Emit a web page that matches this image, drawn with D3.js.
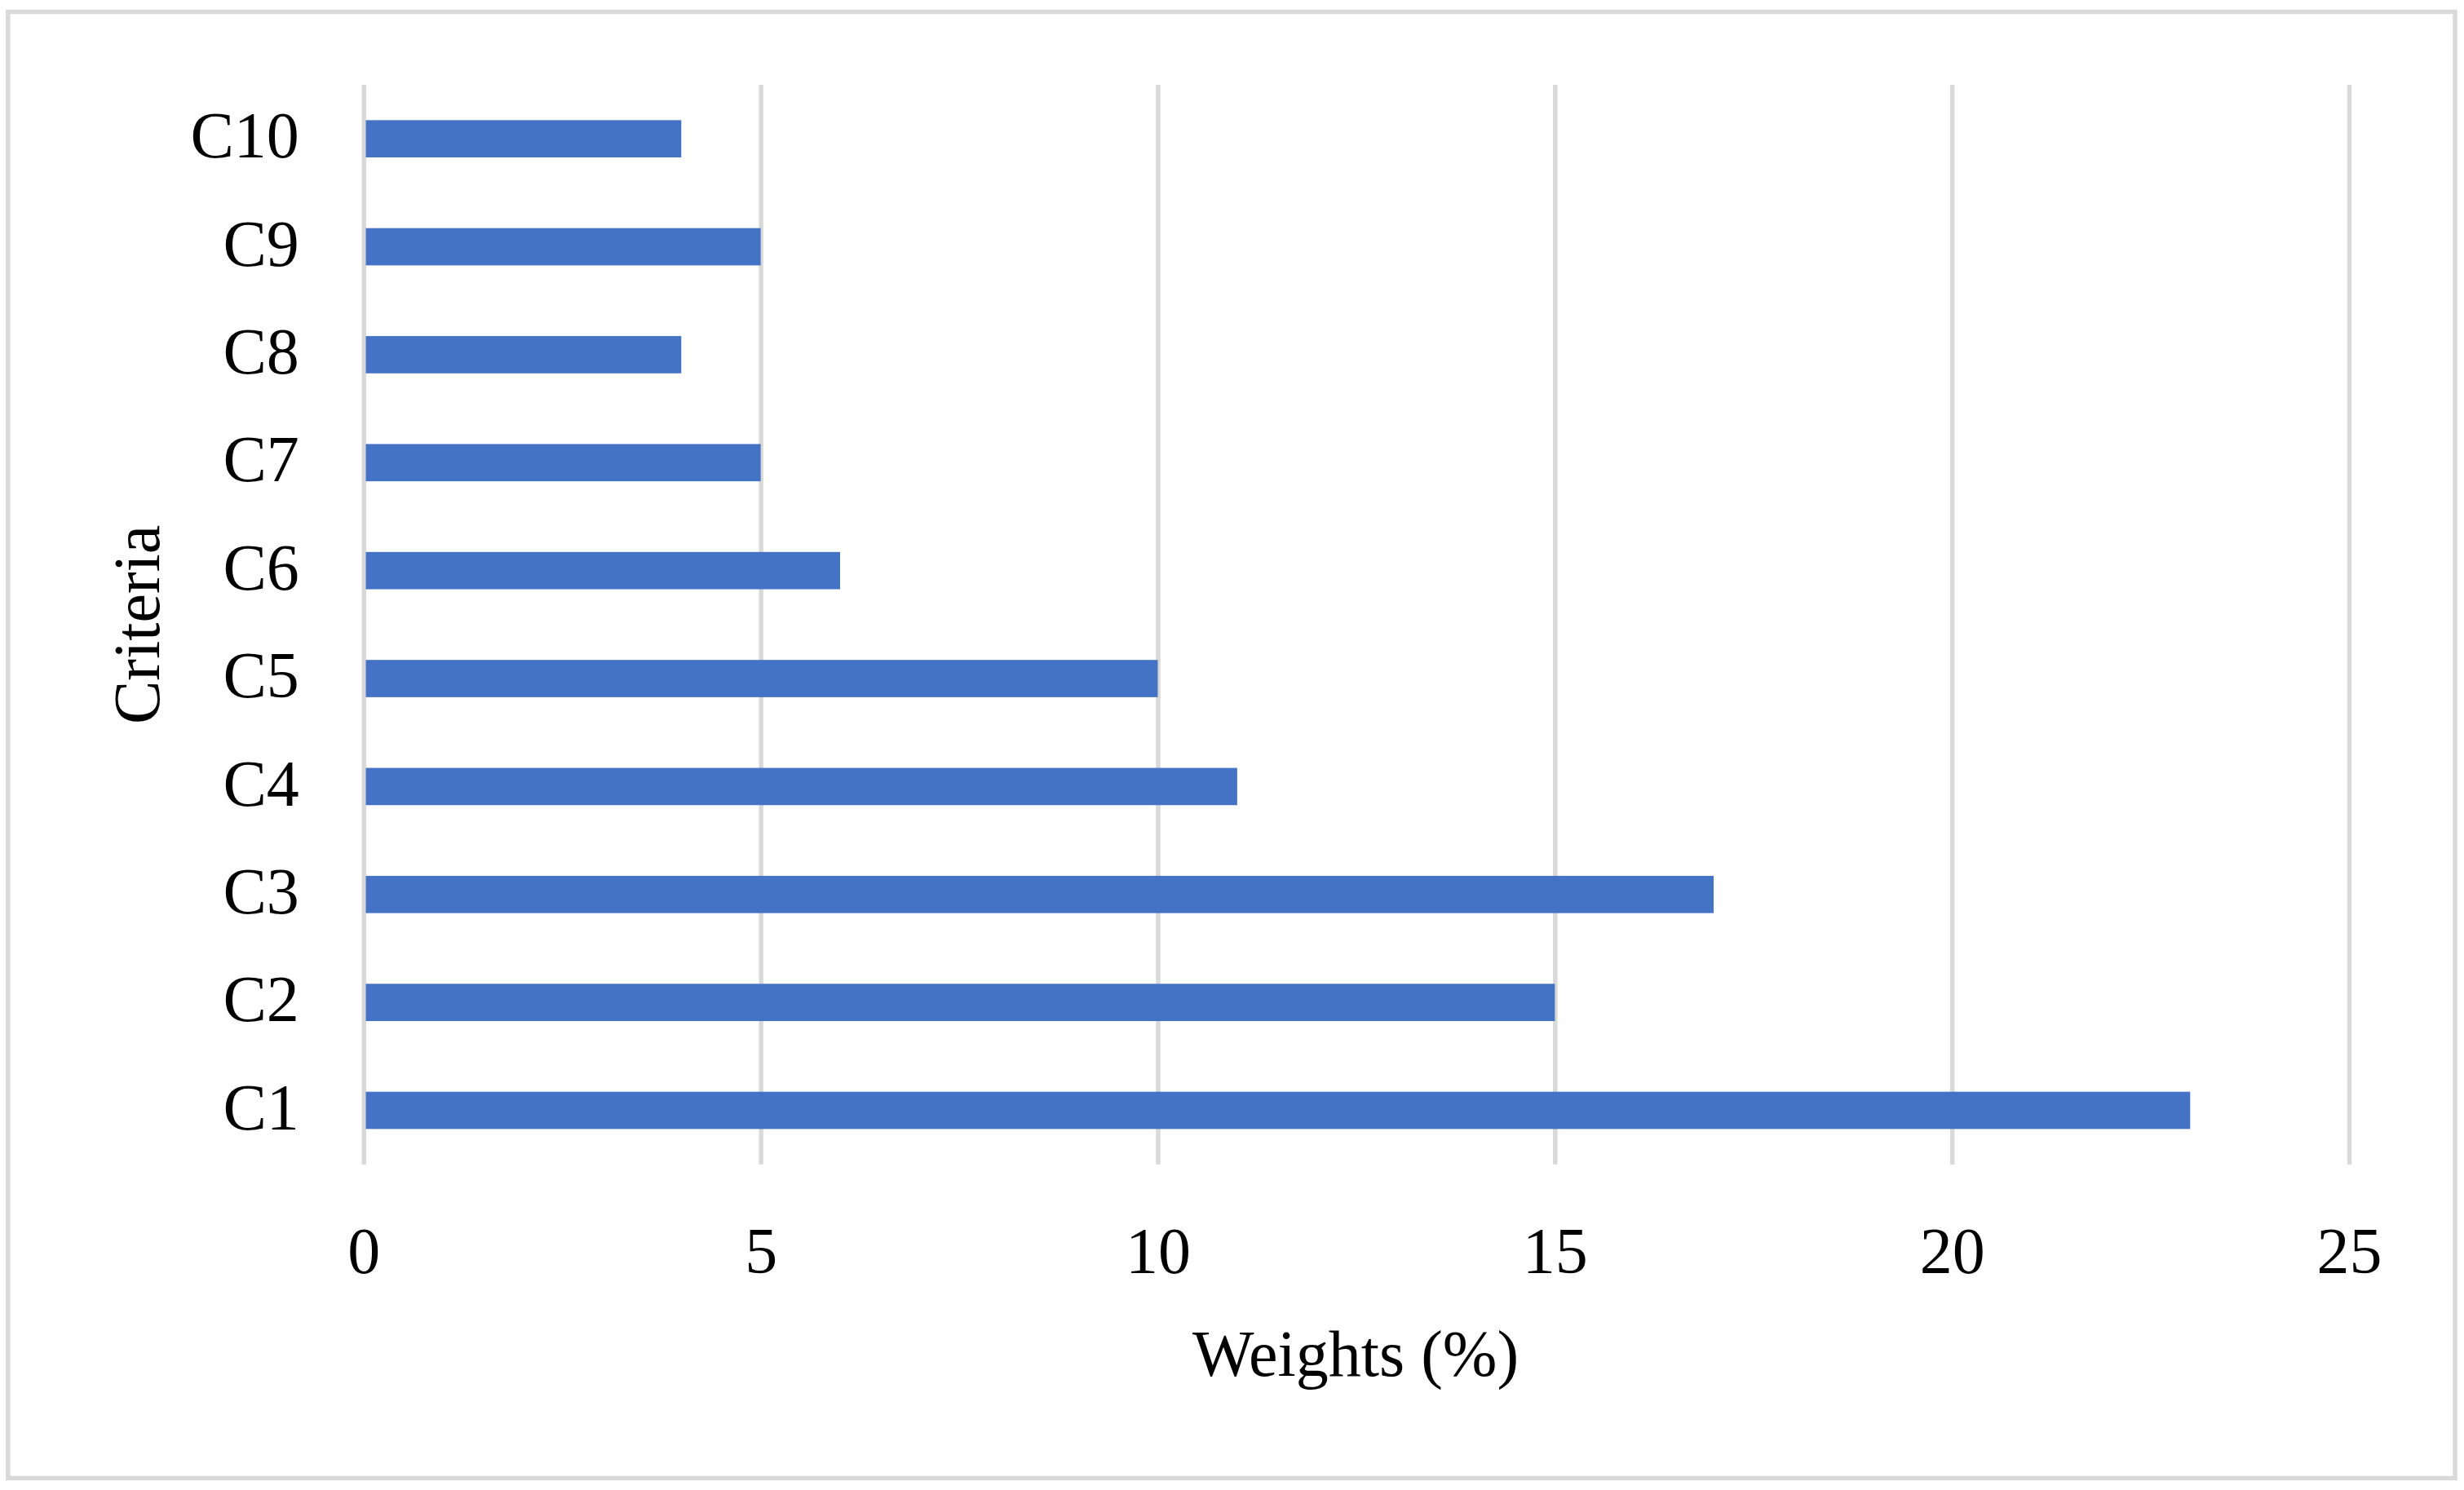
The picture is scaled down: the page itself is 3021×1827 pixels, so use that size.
<!DOCTYPE html>
<html>
<head>
<meta charset="utf-8">
<script src="https://cdn.jsdelivr.net/npm/d3@7"></script>
<style>
  html, body { margin: 0; padding: 0; background: #ffffff; }
  svg { display: block; }
</style>
</head>
<body>
<script>
const categories = ["C1", "C2", "C3", "C4", "C5", "C6", "C7", "C8", "C9", "C10"];
const weights = [23, 15, 17, 11, 10, 6, 5, 4, 5, 4];
const xTicks = [0, 5, 10, 15, 20, 25];
const xTitle = "Weights (%)";
const yTitle = "Criteria";

(function () {
const W = 3021, H = 1827;
const FONT = "'Liberation Serif', 'DejaVu Serif', serif";
const plotLeft = 445.8, plotRight = 2880, plotTop = 104, plotBottom = 1427.7;
const gridW = 5.5;

const svg = d3.select("body").append("svg")
  .attr("width", W).attr("height", H)
  .attr("viewBox", `0 0 ${W} ${H}`);

svg.append("rect").attr("width", W).attr("height", H).attr("fill", "#ffffff");

// chart border
svg.append("rect")
  .attr("x", 9.8).attr("y", 14.5)
  .attr("width", 3010 - 9.8).attr("height", 1812.5 - 14.5)
  .attr("fill", "none").attr("stroke", "#d9d9d9").attr("stroke-width", 5.5);

const x = d3.scaleLinear().domain([0, 25]).range([plotLeft, plotRight]);
const y = d3.scaleBand()
  .domain(categories.slice().reverse())
  .range([plotTop, plotBottom])
  .paddingInner(0.655).paddingOuter(0.3275);

// x axis with gridlines
const xAxis = svg.append("g")
  .attr("transform", `translate(0,${plotBottom})`)
  .call(d3.axisBottom(x).tickValues(xTicks).tickFormat(d3.format("d"))
    .tickSize(-(plotBottom - plotTop)).tickPadding(76.5));
xAxis.select(".domain").remove();
xAxis.selectAll(".tick line").attr("stroke", "#d9d9d9").attr("stroke-width", gridW);
xAxis.selectAll(".tick text")
  .attr("font-family", FONT).attr("font-size", 80).attr("fill", "#000");

// bars (start at the right edge of the zero gridline)
svg.append("g").selectAll("rect")
  .data(categories.map((c, i) => ({ c, v: weights[i] })))
  .join("rect")
  .attr("x", x(0) + gridW / 2)
  .attr("y", d => y(d.c))
  .attr("width", d => x(d.v) - x(0) - gridW / 2)
  .attr("height", y.bandwidth())
  .attr("fill", "#4472c4");

// y axis labels
const yAxis = svg.append("g")
  .attr("transform", `translate(${plotLeft},0)`)
  .call(d3.axisLeft(y).tickSize(0).tickPadding(79));
yAxis.select(".domain").remove();
yAxis.selectAll(".tick text")
  .attr("font-family", FONT).attr("font-size", 80).attr("fill", "#000")
  .attr("dy", "0.29em");

// axis titles
svg.append("text")
  .attr("x", 1662).attr("y", 1687)
  .attr("text-anchor", "middle")
  .attr("font-family", FONT).attr("font-size", 80).attr("fill", "#000")
  .text(xTitle);

svg.append("text")
  .attr("transform", `translate(195,${(plotTop + plotBottom) / 2}) rotate(-90)`)
  .attr("text-anchor", "middle")
  .attr("font-family", FONT).attr("font-size", 80).attr("fill", "#000")
  .text(yTitle);
})();
</script>
</body>
</html>
